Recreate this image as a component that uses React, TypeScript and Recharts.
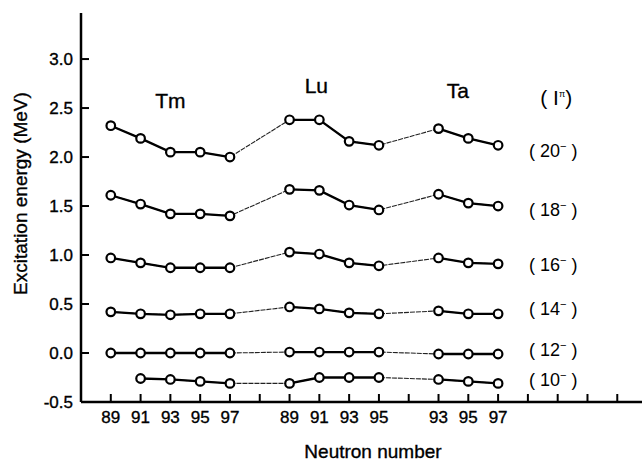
import { LineChart, Line, XAxis, YAxis, ReferenceDot } from "recharts";

// neutron number tick labels along the bottom axis (blank = unlabeled tick)
const xTickLabels = ['89', '91', '93', '95', '97', '', '89', '91', '93', '95', '', '93', '95', '97', '', '', '', ''];
const yTicks = [-0.5, 0, 0.5, 1.0, 1.5, 2.0, 2.5, 3.0];

const tmNeutrons = [89, 91, 93, 95, 97];
const luNeutrons = [89, 91, 93, 95];
const taNeutrons = [93, 95, 97];

// excitation energy (MeV) per spin, in order Tm..., Lu..., Ta...
const levels = ['20', '18', '16', '14', '12', '10'];
const e20 = [2.32, 2.19, 2.05, 2.05, 2.00, 2.38, 2.38, 2.16, 2.12, 2.29, 2.19, 2.12];
const e18 = [1.61, 1.52, 1.42, 1.42, 1.40, 1.67, 1.66, 1.51, 1.46, 1.62, 1.53, 1.50];
const e16 = [0.97, 0.92, 0.87, 0.87, 0.87, 1.03, 1.01, 0.92, 0.89, 0.97, 0.92, 0.91];
const e14 = [0.42, 0.40, 0.39, 0.40, 0.40, 0.47, 0.45, 0.41, 0.40, 0.43, 0.40, 0.40];
const e12 = [0.00, 0.00, 0.00, 0.00, 0.00, 0.01, 0.01, 0.01, 0.01, -0.01, -0.01, -0.01];
const e10 = [null, -0.26, -0.27, -0.29, -0.31, -0.31, -0.25, -0.25, -0.25, -0.27, -0.29, -0.31];

// annotation anchors (data coords)
const nucleusLabels = [
  { text: 'Tm', x: 2.0, y: 2.57 },
  { text: 'Lu', x: 6.9, y: 2.72 },
  { text: 'Ta', x: 11.65, y: 2.67 },
];
const levelLabelE = [2.06, 1.46, 0.90, 0.45, 0.03, -0.28];

const FONT = "Arial, 'Liberation Sans', sans-serif";
// scanned figure: glyphs look a bit heavier than plain regular weight
const INK = { fill: '#000', stroke: '#000', strokeWidth: 0.35 };

const groups = [
  { name: 'Tm', neutrons: tmNeutrons },
  { name: 'Lu', neutrons: luNeutrons },
  { name: 'Ta', neutrons: taNeutrons },
];
const energies: Record<string, (number | null)[]> = { '20': e20, '18': e18, '16': e16, '14': e14, '12': e12, '10': e10 };

const rows: any[] = [];
let cursor = 0;
groups.forEach((g) => {
  g.neutrons.forEach((n) => {
    const slot = xTickLabels.indexOf(String(n), cursor);
    cursor = slot + 1;
    const i = rows.length;
    const row: any = { slot, nucleus: g.name, neutron: n };
    levels.forEach((l) => { row['e' + l] = energies[l][i]; });
    rows.push(row);
  });
});

const XTick = ({ x, y, payload }: any) => (
  <g>
    <line x1={x} x2={x} y1={y} y2={y - 8} stroke="#000" strokeWidth={2} />
    <text x={x} y={y + 21} textAnchor="middle" fontSize={17} fontFamily={FONT} {...INK}>
      {xTickLabels[payload.value]}
    </text>
  </g>
);

const YTick = ({ x, y, payload }: any) => (
  <g>
    <line x1={x} x2={x + 8} y1={y} y2={y} stroke="#000" strokeWidth={2} />
    <text x={x - 8} y={y + 6} textAnchor="end" fontSize={17} fontFamily={FONT} {...INK}>
      {payload.value.toFixed(1)}
    </text>
  </g>
);

const centerOf = (vb: any) => ({ cx: vb.x + vb.width / 2, cy: vb.y + vb.height / 2 });

const NucleusLabel = (text: string) => (props: any) => {
  const { cx, cy } = centerOf(props.viewBox);
  return (
    <text x={cx} y={cy + 7} textAnchor="middle" fontSize={21} fontFamily={FONT} {...INK}>{text}</text>
  );
};

const SpinLabel = (spin: string) => (props: any) => {
  const { cx, cy } = centerOf(props.viewBox);
  return (
    <text x={cx} y={cy + 6} textAnchor="middle" fontSize={18} fontFamily={FONT} fill="#000">
      <tspan>( {spin}</tspan>
      <tspan dy={-7} fontSize={11}>−</tspan>
      <tspan dy={7}> )</tspan>
    </text>
  );
};

const IpiLabel = (props: any) => {
  const { cx, cy } = centerOf(props.viewBox);
  return (
    <text x={cx} y={cy + 7} textAnchor="middle" fontSize={21} fontFamily={FONT} fill="#000">
      <tspan>( I</tspan>
      <tspan dy={-8} fontSize={9}>π</tspan>
      <tspan dy={8}>)</tspan>
    </text>
  );
};

export default function App() {
  return (
    <div style={{ position: 'absolute', left: 0, top: 0, width: 642, height: 464, background: '#fff' }}>
      <LineChart width={642} height={464} data={rows} margin={{ top: 13, right: 0, bottom: 0, left: 0 }}>
        <XAxis
          type="number"
          dataKey="slot"
          domain={[-1, 17.83]}
          ticks={xTickLabels.map((_, i) => i)}
          interval={0}
          height={62}
          tickSize={0}
          tickMargin={0}
          tickLine={false}
          tick={<XTick />}
          axisLine={{ stroke: '#000', strokeWidth: 2.5 }}
          allowDataOverflow
          label={(p: any) => (
            <text x={p.viewBox.x + 292} y={p.viewBox.y + 56} textAnchor="middle" fontSize={19} fontFamily={FONT} {...INK}>
              Neutron number
            </text>
          )}
        />
        <XAxis
          xAxisId="top"
          orientation="top"
          type="number"
          domain={[-1, 17.83]}
          height={0}
          tick={false}
          tickLine={false}
          axisLine={{ stroke: '#000', strokeWidth: 2.5 }}
        />
        <YAxis
          type="number"
          domain={[-0.5, 3.47]}
          ticks={yTicks}
          interval={0}
          width={81}
          tickSize={0}
          tickMargin={0}
          tickLine={false}
          tick={<YTick />}
          axisLine={{ stroke: '#000', strokeWidth: 2.5 }}
          allowDataOverflow
          label={(p: any) => {
            const cx = p.viewBox.x + 20;
            const cy = p.viewBox.y + p.viewBox.height / 2 - 14;
            return (
              <text x={cx} y={cy} transform={`rotate(-90 ${cx} ${cy})`} textAnchor="middle" dominantBaseline="central" fontSize={19} fontFamily={FONT} {...INK}>
                Excitation energy (MeV)
              </text>
            );
          }}
        />

        {levels.map((l) => (
          <Line
            key={'thin' + l}
            data={rows}
            dataKey={'e' + l}
            stroke="#222"
            strokeWidth={1.1}
            strokeDasharray="5 1"
            dot={false}
            activeDot={false}
            isAnimationActive={false}
          />
        ))}
        {levels.map((l) =>
          groups.map((g) => (
            <Line
              key={l + g.name}
              data={rows.filter((r) => r.nucleus === g.name)}
              dataKey={'e' + l}
              stroke="#000"
              strokeWidth={2.3}
              dot={{ r: 4.3, fill: '#fff', stroke: '#000', strokeWidth: 2.2 }}
              activeDot={false}
              isAnimationActive={false}
            />
          ))
        )}

        {nucleusLabels.map((n) => (
          <ReferenceDot key={n.text} x={n.x} y={n.y} r={1} fill="none" stroke="none" label={NucleusLabel(n.text)} />
        ))}
        <ReferenceDot x={14.95} y={2.6} r={1} fill="none" stroke="none" label={IpiLabel} />
        {levels.map((l, i) => (
          <ReferenceDot key={'lbl' + l} x={14.85} y={levelLabelE[i]} r={1} fill="none" stroke="none" label={SpinLabel(l)} />
        ))}
      </LineChart>
    </div>
  );
}
